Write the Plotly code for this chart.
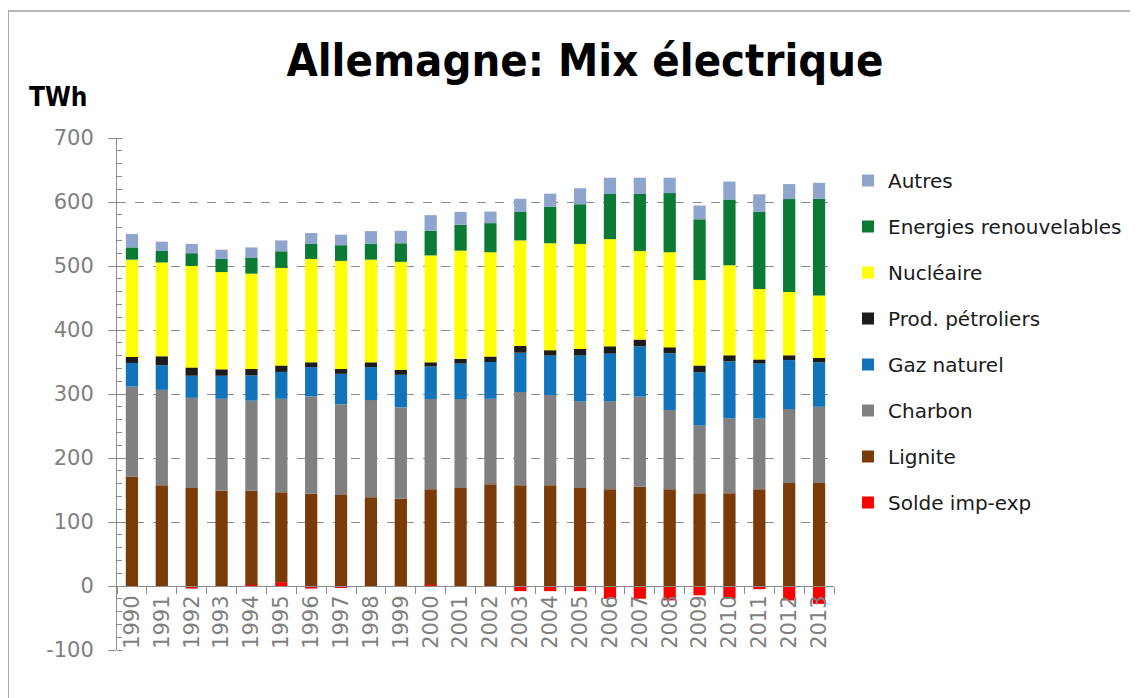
import plotly.graph_objects as go

years = [str(y) for y in range(1990, 2014)]

solde = [0, 0, -4, 0, 2, 6, -4, -2, 0, 0, 2, 0, 0, -8, -8, -8, -20, -20, -22.5, -14.5, -20, -5, -22.5, -28]
lignite = [171, 157.5, 153, 149, 147, 140.5, 144, 142, 138.5, 136.5, 149, 153, 159, 157.5, 157.5, 153, 151, 155, 151, 145, 145, 151, 161, 161]
charbon = [140.5, 149, 141, 143.5, 140.5, 146, 152.5, 142, 152, 142.5, 141, 139, 133.5, 145.5, 141, 135.5, 137.5, 141, 124, 106, 117, 110.5, 115.5, 119]
gaz = [37, 38.5, 34.5, 36, 39.5, 42, 45.5, 47.5, 51.5, 51, 51, 55.5, 57.5, 61.5, 61.5, 71.5, 74.5, 78.5, 88.5, 83, 89, 86, 76.5, 69.5]
petrole = [9.5, 14, 13, 10, 10, 10, 7.5, 7.5, 7.5, 7.5, 6.5, 7.5, 8.5, 10.5, 8.5, 10.5, 11.5, 10.5, 9.5, 10.5, 9.5, 6.5, 7.5, 7]
nucleaire = [152, 146.5, 158.5, 152, 149, 152.5, 161.5, 169, 160.5, 169, 167, 169, 163, 165, 167, 164, 167.5, 138.5, 148.5, 133.5, 140.5, 110, 99, 97.5]
renouvelables = [19, 18, 20, 20.5, 24.5, 26, 23.5, 24.5, 25, 29, 38.5, 40.5, 45.5, 44.5, 57, 62, 70.5, 89, 92.5, 95, 103, 120.5, 145, 151]
autres = [21, 14.5, 14.5, 14.5, 16.5, 17, 17, 16.5, 19.5, 19.5, 24.5, 20, 18, 20.5, 20.5, 25, 25.5, 25.5, 24, 21.5, 28, 27.5, 23.5, 25]

series = [
    ("Solde imp-exp", solde, "#FF0000"),
    ("Lignite", lignite, "#7A3B08"),
    ("Charbon", charbon, "#808080"),
    ("Gaz naturel", gaz, "#1174BB"),
    ("Prod. pétroliers", petrole, "#1C1C1C"),
    ("Nucléaire", nucleaire, "#FFFF00"),
    ("Energies renouvelables", renouvelables, "#0A7A34"),
    ("Autres", autres, "#8FA5CE"),
]

y_ticks = list(range(-100, 701, 100))
y_ticktext = [str(v) for v in y_ticks]

fig = go.Figure()
n = len(series)
for i, (name, vals, col) in enumerate(series):
    fig.add_trace(go.Bar(x=years, y=vals, name=name, marker=dict(color=col, line=dict(width=0)),
                         legendgroup=name, legendrank=(n - i) * 10))

# page offset from default body margin
OFF = 8
W, H = 1138 - OFF, 698 - OFF
L, T = 117 - OFF, 138 - OFF
pw, ph = 718, 512
R, B = W - L - pw, H - T - ph

def px_x(p):
    return (p - OFF - L) / pw

def px_y(p):
    return 1 - (p - OFF - T) / ph

axis_gray = "#8C8C8C"
tick_font = dict(family="DejaVu Sans, Verdana, sans-serif", size=21, color="#7F7F7F")

fig.update_layout(
    width=W, height=H,
    margin=dict(l=L, r=R, t=T, b=B),
    paper_bgcolor="white", plot_bgcolor="white",
    barmode="relative", bargap=0.59,
    showlegend=True,
    legend=dict(traceorder="grouped", x=px_x(848), xanchor="left", y=px_y(161), yanchor="top",
                font=dict(family="DejaVu Sans, Verdana, sans-serif", size=20, color="#1A1A1A"),
                tracegroupgap=17, bgcolor="rgba(0,0,0,0)"),
    title=dict(text="Allemagne: Mix électrique", x=(585 - OFF) / W, xref="container", xanchor="center",
               y=1 - (60 - OFF) / H, yref="container", yanchor="middle",
               font=dict(family="DejaVu Sans Condensed, DejaVu Sans, sans-serif", size=45,
                         color="black", weight="bold")),
    xaxis=dict(type="category", anchor="free", position=100 / 800, showline=True, linecolor=axis_gray,
               linewidth=1, ticks="outside", tickson="boundaries", ticklen=7, tickcolor=axis_gray,
               tickangle=-90, tickfont=tick_font, showgrid=False, zeroline=False,
               range=[-0.5, 23.5]),
    xaxis2=dict(overlaying="x", anchor="y", side="bottom", range=[-0.5, 23.5], tickmode="linear",
                tick0=-0.5, dtick=1, ticks="outside", ticklen=4, tickcolor=axis_gray,
                showticklabels=False, showgrid=False, zeroline=False, showline=False),
    xaxis3=dict(overlaying="x", anchor="y", side="bottom", range=[-0.5, 23.5], tickmode="linear",
                tick0=-0.5, dtick=1, ticks="inside", ticklen=4, tickcolor=axis_gray,
                showticklabels=False, showgrid=False, zeroline=False, showline=False),
    yaxis=dict(range=[-100, 700], tickmode="array", tickvals=y_ticks, ticktext=y_ticktext,
               ticks="outside", ticklen=8, tickcolor=axis_gray, tickfont=tick_font,
               ticklabelstandoff=10,
               showline=True, linecolor=axis_gray, linewidth=1,
               showgrid=True, gridcolor="#8C8C8C", griddash="dash", gridwidth=1,
               zeroline=False,
               minor=dict(tickmode="linear", tick0=0, dtick=20, ticks="inside", ticklen=5,
                          tickcolor=axis_gray, showgrid=False)),
    shapes=[dict(type="rect", xref="paper", yref="paper", x0=px_x(8), x1=px_x(1145),
                 y0=px_y(715), y1=px_y(11), line=dict(color="#A0A0A0", width=1.5),
                 fillcolor="rgba(0,0,0,0)", layer="below")],
    annotations=[dict(text="TWh", xref="paper", yref="paper", x=px_x(27), y=px_y(97),
                      xanchor="left", yanchor="middle", showarrow=False,
                      font=dict(family="DejaVu Sans Condensed, DejaVu Sans, sans-serif", size=26,
                                color="black", weight="bold"))],
)

fig.write_html("out.html")
